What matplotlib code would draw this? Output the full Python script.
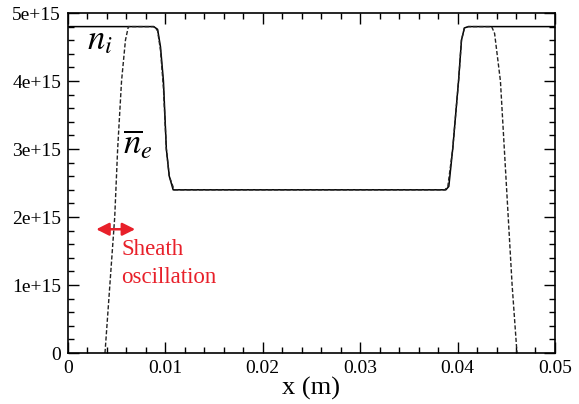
import matplotlib
matplotlib.use("Agg")
import matplotlib.pyplot as plt
from matplotlib.ticker import MultipleLocator

plt.rcParams['font.family'] = ['Liberation Serif', 'DejaVu Serif']
plt.rcParams['mathtext.fontset'] = 'stix'

# ion density n_i (solid)
x_ni = [0.0, 0.0088, 0.0092, 0.0095, 0.0098, 0.0101, 0.0104, 0.0108,
        0.0388, 0.0391, 0.0395, 0.0401, 0.0404, 0.0407, 0.0411, 0.05]
ni = [4.8e15, 4.8e15, 4.76e15, 4.5e15, 4.0e15, 3.0e15, 2.6e15, 2.4e15,
      2.4e15, 2.45e15, 3.0e15, 4.0e15, 4.6e15, 4.78e15, 4.8e15, 4.8e15]

# time-averaged electron density (dashed)
x_ne = [0.0038, 0.0043, 0.0048, 0.0051, 0.0055, 0.0059, 0.0062, 0.0088,
        0.0092, 0.0095, 0.0098, 0.0101, 0.0104, 0.0109,
        0.0387, 0.0390, 0.0395, 0.0401, 0.0404, 0.0407, 0.0411,
        0.0435, 0.0438, 0.0444, 0.0448, 0.0452, 0.0456, 0.0461]
ne = [0.0, 1.0e15, 2.0e15, 3.0e15, 4.0e15, 4.6e15, 4.8e15, 4.8e15,
      4.74e15, 4.45e15, 3.9e15, 3.0e15, 2.6e15, 2.4e15,
      2.4e15, 2.45e15, 3.0e15, 4.0e15, 4.6e15, 4.78e15, 4.8e15,
      4.8e15, 4.7e15, 4.0e15, 3.0e15, 2.0e15, 1.0e15, 0.0]

fig = plt.figure(figsize=(5.79, 4.04), dpi=100)
ax = fig.add_axes([0.1174, 0.1262, 0.8411, 0.8416])

ax.plot(x_ni, ni, color='black', lw=1.1)
ax.plot(x_ne, ne, color='#222222', lw=1.0, ls=(0, (3, 1.5)))

ax.set_xlim(0, 0.05)
ax.set_ylim(0, 5e15)
ax.xaxis.set_minor_locator(MultipleLocator(0.002))
ax.yaxis.set_minor_locator(MultipleLocator(0.2e15))
ax.set_xticks([0, 0.01, 0.02, 0.03, 0.04, 0.05])
ax.set_xticklabels(['0', '0.01', '0.02', '0.03', '0.04', '0.05'])
ax.set_yticks([0, 1e15, 2e15, 3e15, 4e15, 5e15])
ax.set_yticklabels(['0', '1e+15', '2e+15', '3e+15', '4e+15', '5e+15'])

ax.tick_params(which='both', direction='in', top=True, right=True, labelsize=14, width=1.0)
ax.tick_params(which='major', length=8, pad=5)
ax.tick_params(which='minor', length=4.5)
for s in ax.spines.values():
    s.set_linewidth(1.2)

ax.set_xlabel('x (m)', fontsize=19, labelpad=0)

ax.text(0.0020, 4.6e15, r'$n_i$', fontsize=25, ha='left', va='center')
ax.text(0.0056, 3.05e15, r'$\overline{n}_e$', fontsize=25, ha='left', va='center')

ax.annotate('', xy=(0.0029, 1.82e15), xytext=(0.0069, 1.82e15),
            arrowprops=dict(arrowstyle='<|-|>', color='#e8202a', lw=1.8,
                            mutation_scale=19, shrinkA=0, shrinkB=0))
ax.text(0.0055, 1.68e15, 'Sheath\noscillation', fontsize=16.5, color='#e8202a',
        ha='left', va='top', linespacing=1.45)

fig.savefig('out.png', dpi=100)
